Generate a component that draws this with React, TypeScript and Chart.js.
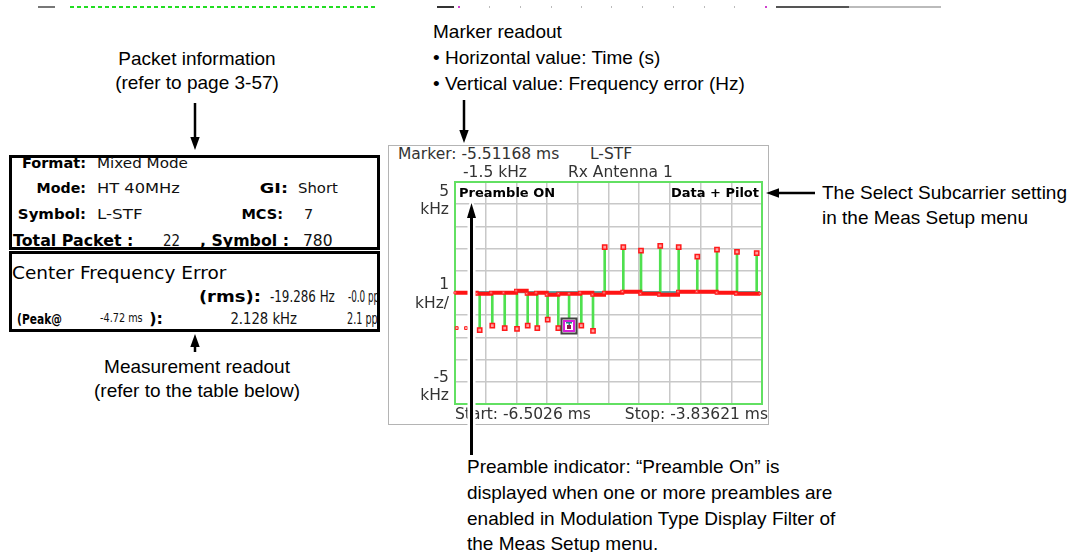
import React, { useEffect, useLayoutEffect, useRef } from "react";
import { Chart, registerables } from "chart.js";

Chart.register(...registerables);

// ---- data (time in ms, frequency error in kHz) ----
const X_MIN = -6.5026;
const X_MAX = -3.83621;
const Y_MIN = -5;
const Y_MAX = 5;

const stemTimes = [
  -6.2881, -6.1787, -6.0709, -5.9641, -5.8712, -5.7878, -5.6975, -5.6054, -5.51168, -5.4056,
  -5.304, -5.2024, -5.0408, -4.8871, -4.72, -4.5597, -4.3982, -4.2271, -4.0534, -3.8823,
];
const stemValues = [
  -1.67, -1.47, -1.58, -1.62, -1.47, -1.58, -1.2, -1.58, -1.5, -1.47,
  -1.71, 2.07, 2.07, 1.91, 2.128, 2.07, 1.64, 1.95, 1.85, 1.8,
];

const edgeDotTimes = [-6.4878, -6.4071];
const edgeDotValues = [-1.58, -1.58];

const stepTimes = [
  -6.5026, -6.3141, -6.1899, -6.0831, -5.9728, -5.8799, -5.7991, -5.7062, -5.6054, -5.5125,
  -5.4169, -5.3101, -5.2085, -5.0495, -4.8932, -4.7308, -4.5658, -4.4034, -4.2297, -4.062, -3.8536,
];
const stepValues = [
  0.01, -0.03, 0.01, 0.01, 0.1, -0.03, 0.01, -0.08, -0.03, -0.03,
  0.01, -0.08, 0.01, 0.06, -0.03, -0.08, 0.06, 0.06, 0.01, -0.03, -0.03,
];

const tealTimes = [-6.5026, -3.8536];
const tealValues = [0.05, 0.05];

const markerTime = -5.51168;
const markerValue = -1.5;

const ANNO = '"Liberation Sans", Arial, Helvetica, sans-serif';
const UI = '"DejaVu Sans", Verdana, sans-serif';

function T(props: any) {
  const { x, y, children, size = 19, bold = false, align = "left", font = ANNO, color = "#000", w, style = {} } = props;
  const ref = useRef<HTMLDivElement>(null);
  const tx = align === "left" ? "0" : align === "right" ? "-100%" : "-50%";
  const base = `translate(${tx},-50%)`;
  useLayoutEffect(() => {
    const el = ref.current;
    if (!el || !w) return;
    const nat = el.offsetWidth;
    if (nat > 0) el.style.transform = `${base} scaleX(${w / nat})`;
  }, [w, base]);
  return (
    <div
      ref={ref}
      style={{
        position: "absolute",
        left: x,
        top: y,
        transform: base,
        transformOrigin: align === "left" ? "left center" : align === "right" ? "right center" : "center center",
        whiteSpace: "pre",
        fontSize: size,
        fontWeight: bold ? "bold" : "normal",
        fontFamily: font,
        color,
        lineHeight: 1,
        ...style,
      }}
    >
      {children}
    </div>
  );
}

function ChartPanel() {
  const ref = useRef<HTMLCanvasElement>(null);
  useEffect(() => {
    if (!ref.current) return;
    const plotBorder = {
      id: "plotBorder",
      beforeDatasetsDraw(chart: any) {
        const { ctx, chartArea: a } = chart;
        ctx.save();
        ctx.strokeStyle = "#62e062";
        ctx.lineWidth = 2;
        ctx.strokeRect(a.left, a.top, a.right - a.left, a.bottom - a.top);
        ctx.restore();
      },
    };
    const markerBox = {
      id: "markerBox",
      afterDatasetsDraw(chart: any) {
        const { ctx } = chart;
        const px = Math.round(chart.scales.x.getPixelForValue(markerTime));
        const py = Math.round(chart.scales.y.getPixelForValue(markerValue));
        ctx.save();
        ctx.fillStyle = "#ffffff";
        ctx.fillRect(px - 7, py - 7, 14, 14);
        ctx.strokeStyle = "#444444";
        ctx.lineWidth = 2;
        ctx.strokeRect(px - 7.5, py - 7.5, 15, 15);
        ctx.strokeStyle = "#d81fd8";
        ctx.lineWidth = 2;
        ctx.strokeRect(px - 5, py - 5, 10, 10);
        ctx.fillStyle = "#8b1a4a";
        ctx.fillRect(px - 2, py - 1, 4, 4);
        ctx.fillStyle = "#1f8a8a";
        ctx.fillRect(px - 3, py - 4, 6, 1.5);
        ctx.fillRect(px - 0.5, py - 4, 1.5, 3);
        ctx.restore();
      },
    };
    const gridX = Array.from({ length: 11 }, (_, i) => X_MIN + ((X_MAX - X_MIN) * i) / 10);
    const chart = new Chart(ref.current, {
      type: "line",
      data: {
        datasets: [
          {
            type: "line",
            data: tealTimes.map((t, i) => ({ x: t, y: tealValues[i] })),
            borderColor: "#2a8c8c",
            borderWidth: 1.5,
            pointRadius: 0,
            order: 5,
          } as any,
          {
            type: "bar",
            data: stemTimes.map((t, i) => ({ x: t, y: [0, stemValues[i]] })),
            backgroundColor: "#4fe04f",
            barThickness: 2,
            grouped: false,
            order: 4,
          } as any,
          {
            type: "line",
            data: stepTimes.map((t, i) => ({ x: t, y: stepValues[i] })),
            stepped: "before",
            borderColor: "#ff1414",
            borderWidth: 4,
            pointStyle: "rect",
            pointRadius: 1.5,
            pointBackgroundColor: "#ffb0b0",
            pointBorderColor: "#ff3030",
            pointBorderWidth: 1,
            order: 3,
            clip: false,
          } as any,
          {
            type: "line",
            data: edgeDotTimes.map((t, i) => ({ x: t, y: edgeDotValues[i] })),
            showLine: false,
            pointStyle: "rect",
            pointRadius: 2,
            pointBackgroundColor: "#ffb0b0",
            pointBorderColor: "#ff2020",
            pointBorderWidth: 1,
            order: 2,
            clip: false,
          } as any,
          {
            type: "line",
            data: stemTimes.map((t, i) => ({ x: t, y: stemValues[i] })),
            showLine: false,
            pointStyle: "rect",
            pointRadius: 3,
            pointBackgroundColor: "#ffa0a0",
            pointBorderColor: "#ff1a1a",
            pointBorderWidth: 1.5,
            order: 1,
            clip: false,
          } as any,
        ],
      },
      options: {
        animation: false,
        responsive: false,
        events: [],
        layout: { padding: { left: 15, right: 18, top: 12, bottom: 16 } },
        plugins: { legend: { display: false }, tooltip: { enabled: false } },
        scales: {
          x: {
            type: "linear",
            min: X_MIN,
            max: X_MAX,
            offset: false,
            afterBuildTicks: (scale: any) => {
              scale.ticks = gridX.map((v) => ({ value: v }));
            },
            ticks: { display: false },
            grid: { color: "#c8c8c8", lineWidth: 1.5, drawTicks: false, offset: false },
            border: { display: false },
          },
          y: {
            type: "linear",
            min: Y_MIN,
            max: Y_MAX,
            ticks: { display: false, stepSize: 1 },
            grid: { color: "#c8c8c8", lineWidth: 1.5, drawTicks: false },
            border: { display: false },
          },
        },
      } as any,
      plugins: [plotBorder, markerBox],
    });
    return () => chart.destroy();
  }, []);
  return (
    <div style={{ position: "absolute", left: 440, top: 170, width: 340, height: 250 }}>
      <canvas ref={ref} width={340} height={250} style={{ width: 340, height: 250 }} />
    </div>
  );
}

function Arrow({ x1, y1, x2, y2, w = 2.5, head = 13, half = 4.7, halo = 0 }: any) {
  const dx = x2 - x1;
  const dy = y2 - y1;
  const len = Math.sqrt(dx * dx + dy * dy);
  const ux = dx / len;
  const uy = dy / len;
  const bx = x2 - ux * head;
  const by = y2 - uy * head;
  const nx = -uy;
  const ny = ux;
  const pts = `${x2},${y2} ${bx + nx * half},${by + ny * half} ${bx - nx * half},${by - ny * half}`;
  return (
    <g>
      {halo > 0 && <line x1={x1} y1={y1} x2={bx} y2={by} stroke="#fff" strokeWidth={halo} />}
      {halo > 0 && <polygon points={pts} fill="#fff" stroke="#fff" strokeWidth={4} />}
      <line x1={x1} y1={y1} x2={bx + ux * 2} y2={by + uy * 2} stroke="#000" strokeWidth={w} />
      <polygon points={pts} fill="#000" />
    </g>
  );
}

function Strip() {
  const bits: any[] = [
    [38, 17, "#777"],
    [70, 308, "#22dd22"],
    [437, 17, "#333"],
    [458, 2, "#d040d0"],
    [765, 2, "#d040d0"],
    [776, 73, "#555"],
    [849, 92, "#bbb"],
  ];
  const ticks = [489, 520, 551, 581, 611, 642, 673, 704, 734];
  return (
    <>
      {bits.map((b, i) => (
        <div
          key={i}
          style={{
            position: "absolute",
            left: b[0],
            top: 6,
            width: b[1],
            height: 2,
            background: i === 1 ? "repeating-linear-gradient(90deg,#22dd22 0 4px,transparent 4px 7px)" : b[2],
          }}
        />
      ))}
      {ticks.map((t, i) => (
        <div key={"t" + i} style={{ position: "absolute", left: t, top: 6, width: 1, height: 2, background: "#bbb" }} />
      ))}
    </>
  );
}

export default function App() {
  const box: any = {
    position: "absolute",
    boxSizing: "border-box",
    border: "3px solid #000",
    background: "#fff",
  };
  const gray = "#333";
  const ink = "#111";
  return (
    <div
      style={{
        position: "fixed",
        left: 0,
        top: 0,
        width: 1090,
        height: 552,
        background: "#fff",
        overflow: "hidden",
      }}
    >
      <Strip />

      {/* left annotations */}
      <T x={197} y={58} align="center">Packet information</T>
      <T x={197} y={82} align="center">(refer to page 3-57)</T>
      <T x={197} y={366} align="center">Measurement readout</T>
      <T x={197} y={390} align="center">(refer to the table below)</T>

      {/* packet info box + measurement box */}
      <div style={{ ...box, left: 9, top: 155, width: 371, height: 95 }} />
      <div style={{ ...box, left: 9, top: 251, width: 371, height: 81 }} />

      <T x={86} y={163} align="right" bold font={UI} size={14.5} w={64}>Format:</T>
      <T x={97} y={163} font={UI} size={14.5} color={ink} w={91}>Mixed Mode</T>
      <T x={86} y={188} align="right" bold font={UI} size={14.5} w={49}>Mode:</T>
      <T x={97} y={188} font={UI} size={14.5} color={ink} w={83}>HT 40MHz</T>
      <T x={288} y={188} align="right" bold font={UI} size={14.5} w={28}>GI:</T>
      <T x={298} y={188} font={UI} size={14.5} color={ink} w={40}>Short</T>
      <T x={86} y={214} align="right" bold font={UI} size={14.5} w={68}>Symbol:</T>
      <T x={97} y={214} font={UI} size={14.5} color={ink} w={45}>L-STF</T>
      <T x={283} y={214} align="right" bold font={UI} size={14.5} w={42}>MCS:</T>
      <T x={304} y={214} font={UI} size={14.5} color={ink}>7</T>
      <T x={13} y={241} bold font={UI} size={16.5} w={120}>Total Packet :</T>
      <T x={180} y={241} align="right" font={UI} size={15} color={ink} w={17}>22</T>
      <T x={200} y={241} bold font={UI} size={16.5} w={89}>, Symbol :</T>
      <T x={303} y={241} font={UI} size={15} color={ink} w={30}>780</T>

      <T x={12} y={273} font={UI} size={17} w={214}>Center Frequency Error</T>
      <T x={261} y={297} align="right" bold font={UI} size={16} w={62}>(rms):</T>
      <T x={270} y={297} font={UI} size={15} color={ink} w={65}>-19.286 Hz</T>
      <T x={17} y={319} bold font={UI} size={14} w={45}>(Peak@</T>
      <T x={100} y={319} font={UI} size={11.5} color={ink} w={43}>-4.72 ms</T>
      <T x={163} y={319} align="right" bold font={UI} size={16}>):</T>
      <T x={297} y={319} align="right" font={UI} size={15} color={ink} w={67}>2.128 kHz</T>
      <div style={{ position: "absolute", left: 0, top: 0, width: 377, height: 552, overflow: "hidden" }}>
        <T x={348} y={297} font={UI} size={15} color={ink} w={40}>-0.0 ppm</T>
        <T x={347} y={319} font={UI} size={15} color={ink} w={40}>2.1 ppm</T>
      </div>

      {/* marker readout annotation */}
      <T x={433} y={31}>Marker readout</T>
      <T x={433} y={57}>{"\u2022 Horizontal value: Time (s)"}</T>
      <T x={433} y={83}>{"\u2022 Vertical value: Frequency error (Hz)"}</T>

      {/* select subcarrier annotation */}
      <T x={822} y={192}>The Select Subcarrier setting</T>
      <T x={822} y={217}>in the Meas Setup menu</T>

      {/* preamble annotation */}
      <T x={467} y={466}>{"Preamble indicator: \u201cPreamble On\u201d is"}</T>
      <T x={467} y={492}>displayed when one or more preambles are</T>
      <T x={467} y={518}>enabled in Modulation Type Display Filter of</T>
      <T x={467} y={543}>the Meas Setup menu.</T>

      {/* instrument display frame */}
      <div
        style={{
          position: "absolute",
          left: 388,
          top: 145,
          width: 381,
          height: 280,
          boxSizing: "border-box",
          border: "1px solid #b4b4b4",
        }}
      />
      <ChartPanel />
      <T x={398} y={155} font={UI} size={15.5} color={gray}>Marker: -5.51168 ms</T>
      <T x={590} y={155} font={UI} size={15.5} color={gray}>L-STF</T>
      <T x={463} y={173} font={UI} size={15.5} color={gray}>-1.5 kHz</T>
      <T x={568} y={173} font={UI} size={15.5} color={gray}>Rx Antenna 1</T>

      <T x={449} y={192} align="right" font={UI} size={15.5} color={gray}>5</T>
      <T x={449} y={210} align="right" font={UI} size={15.5} color={gray}>kHz</T>
      <T x={449} y={285} align="right" font={UI} size={15.5} color={gray}>1</T>
      <T x={449} y={304} align="right" font={UI} size={15.5} color={gray}>kHz/</T>
      <T x={449} y={378} align="right" font={UI} size={15.5} color={gray}>-5</T>
      <T x={449} y={396} align="right" font={UI} size={15.5} color={gray}>kHz</T>

      <T x={455} y={415} font={UI} size={15.5} color={gray}>Start: -6.5026 ms</T>
      <T x={768} y={415} align="right" font={UI} size={15.5} color={gray}>Stop: -3.83621 ms</T>

      <T x={459} y={192} bold font={UI} size={13}>Preamble ON</T>
      <T x={759} y={192} align="right" bold font={UI} size={13}>Data + Pilot</T>

      <svg
        width={1090}
        height={552}
        style={{ position: "absolute", left: 0, top: 0, pointerEvents: "none" }}
      >
        <Arrow x1={195} y1={103} x2={195} y2={150} />
        <Arrow x1={195} y1={352} x2={195} y2={334} />
        <Arrow x1={464} y1={100} x2={464} y2={143} />
        <Arrow x1={815} y1={193} x2={766} y2={193} />
        <Arrow x1={471.5} y1={455} x2={471.5} y2={203} w={3} head={15} half={4.5} halo={8} />
      </svg>
    </div>
  );
}
